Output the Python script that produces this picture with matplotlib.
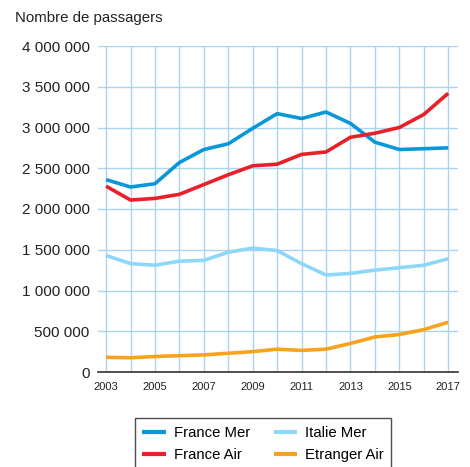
import matplotlib
matplotlib.use("Agg")
import matplotlib.pyplot as plt
from matplotlib.ticker import FuncFormatter

plt.rcParams['font.family'] = ['Liberation Sans', 'DejaVu Sans']

years = list(range(2003, 2018))
france_mer = [2.36, 2.27, 2.31, 2.57, 2.73, 2.80, 2.99, 3.17, 3.11, 3.19, 3.05, 2.82, 2.73, 2.74, 2.75]
france_air = [2.28, 2.11, 2.13, 2.18, 2.30, 2.42, 2.53, 2.55, 2.67, 2.70, 2.88, 2.93, 3.00, 3.16, 3.42]
italie_mer = [1.43, 1.33, 1.31, 1.36, 1.37, 1.47, 1.52, 1.49, 1.33, 1.19, 1.21, 1.25, 1.28, 1.31, 1.39]
etranger_air = [0.18, 0.175, 0.19, 0.20, 0.21, 0.23, 0.25, 0.28, 0.265, 0.28, 0.35, 0.43, 0.46, 0.52, 0.61]
series_names = ["France Mer", "France Air", "Italie Mer", "Etranger Air"]
colors = ["#0a97d9", "#e8202a", "#8dd7f7", "#f6a31d"]

fig = plt.figure(figsize=(4.70, 4.67), dpi=100)
ax = fig.add_axes([98/470, 1-372/467, 360/470, 326/467])

data = [france_mer, france_air, italie_mer, etranger_air]
handles = []
for name, vals, c in zip(series_names, data, colors):
    h, = ax.plot(years, [v*1e6 for v in vals], color=c, lw=2.6, label=name,
                 solid_capstyle='butt', zorder=3)
    handles.append(h)

ax.set_xlim(2002.67, 2017.4)
ax.set_ylim(0, 4e6)
ax.set_yticks([i*5e5 for i in range(9)])
ax.set_xticks(years)
ax.set_xticklabels([str(y) if (y-2003) % 2 == 0 else "" for y in years])
ax.yaxis.set_major_formatter(FuncFormatter(lambda v, p: f"{int(v):,}".replace(",", " ")))
ax.grid(True, color="#a9d5f1", lw=1.0, zorder=0)
for s in ["top", "right", "left"]:
    ax.spines[s].set_visible(False)
ax.spines["bottom"].set_color("#333333")
ax.spines["bottom"].set_linewidth(1.2)
ax.tick_params(axis='both', length=0)
ax.tick_params(axis='y', labelsize=11, colors="#222222", pad=6)
ax.tick_params(axis='x', labelsize=8, colors="#222222", pad=7)

fig.text(15/470, 1-18/467, "Nombre de passagers", fontsize=10.8, color="#222222",
         va='center', ha='left')

leg = fig.legend(handles=handles, ncol=2, loc='upper center',
                 bbox_to_anchor=(263/470, 1-411/467), fontsize=10.7,
                 frameon=True, fancybox=False, edgecolor="#222222",
                 handlelength=1.6, columnspacing=1.6, handletextpad=0.5,
                 borderpad=0.5, labelspacing=0.55)
leg.get_frame().set_linewidth(1.0)
for lh in leg.get_lines():
    lh.set_linewidth(3.0)

fig.savefig("out.png", dpi=100)
